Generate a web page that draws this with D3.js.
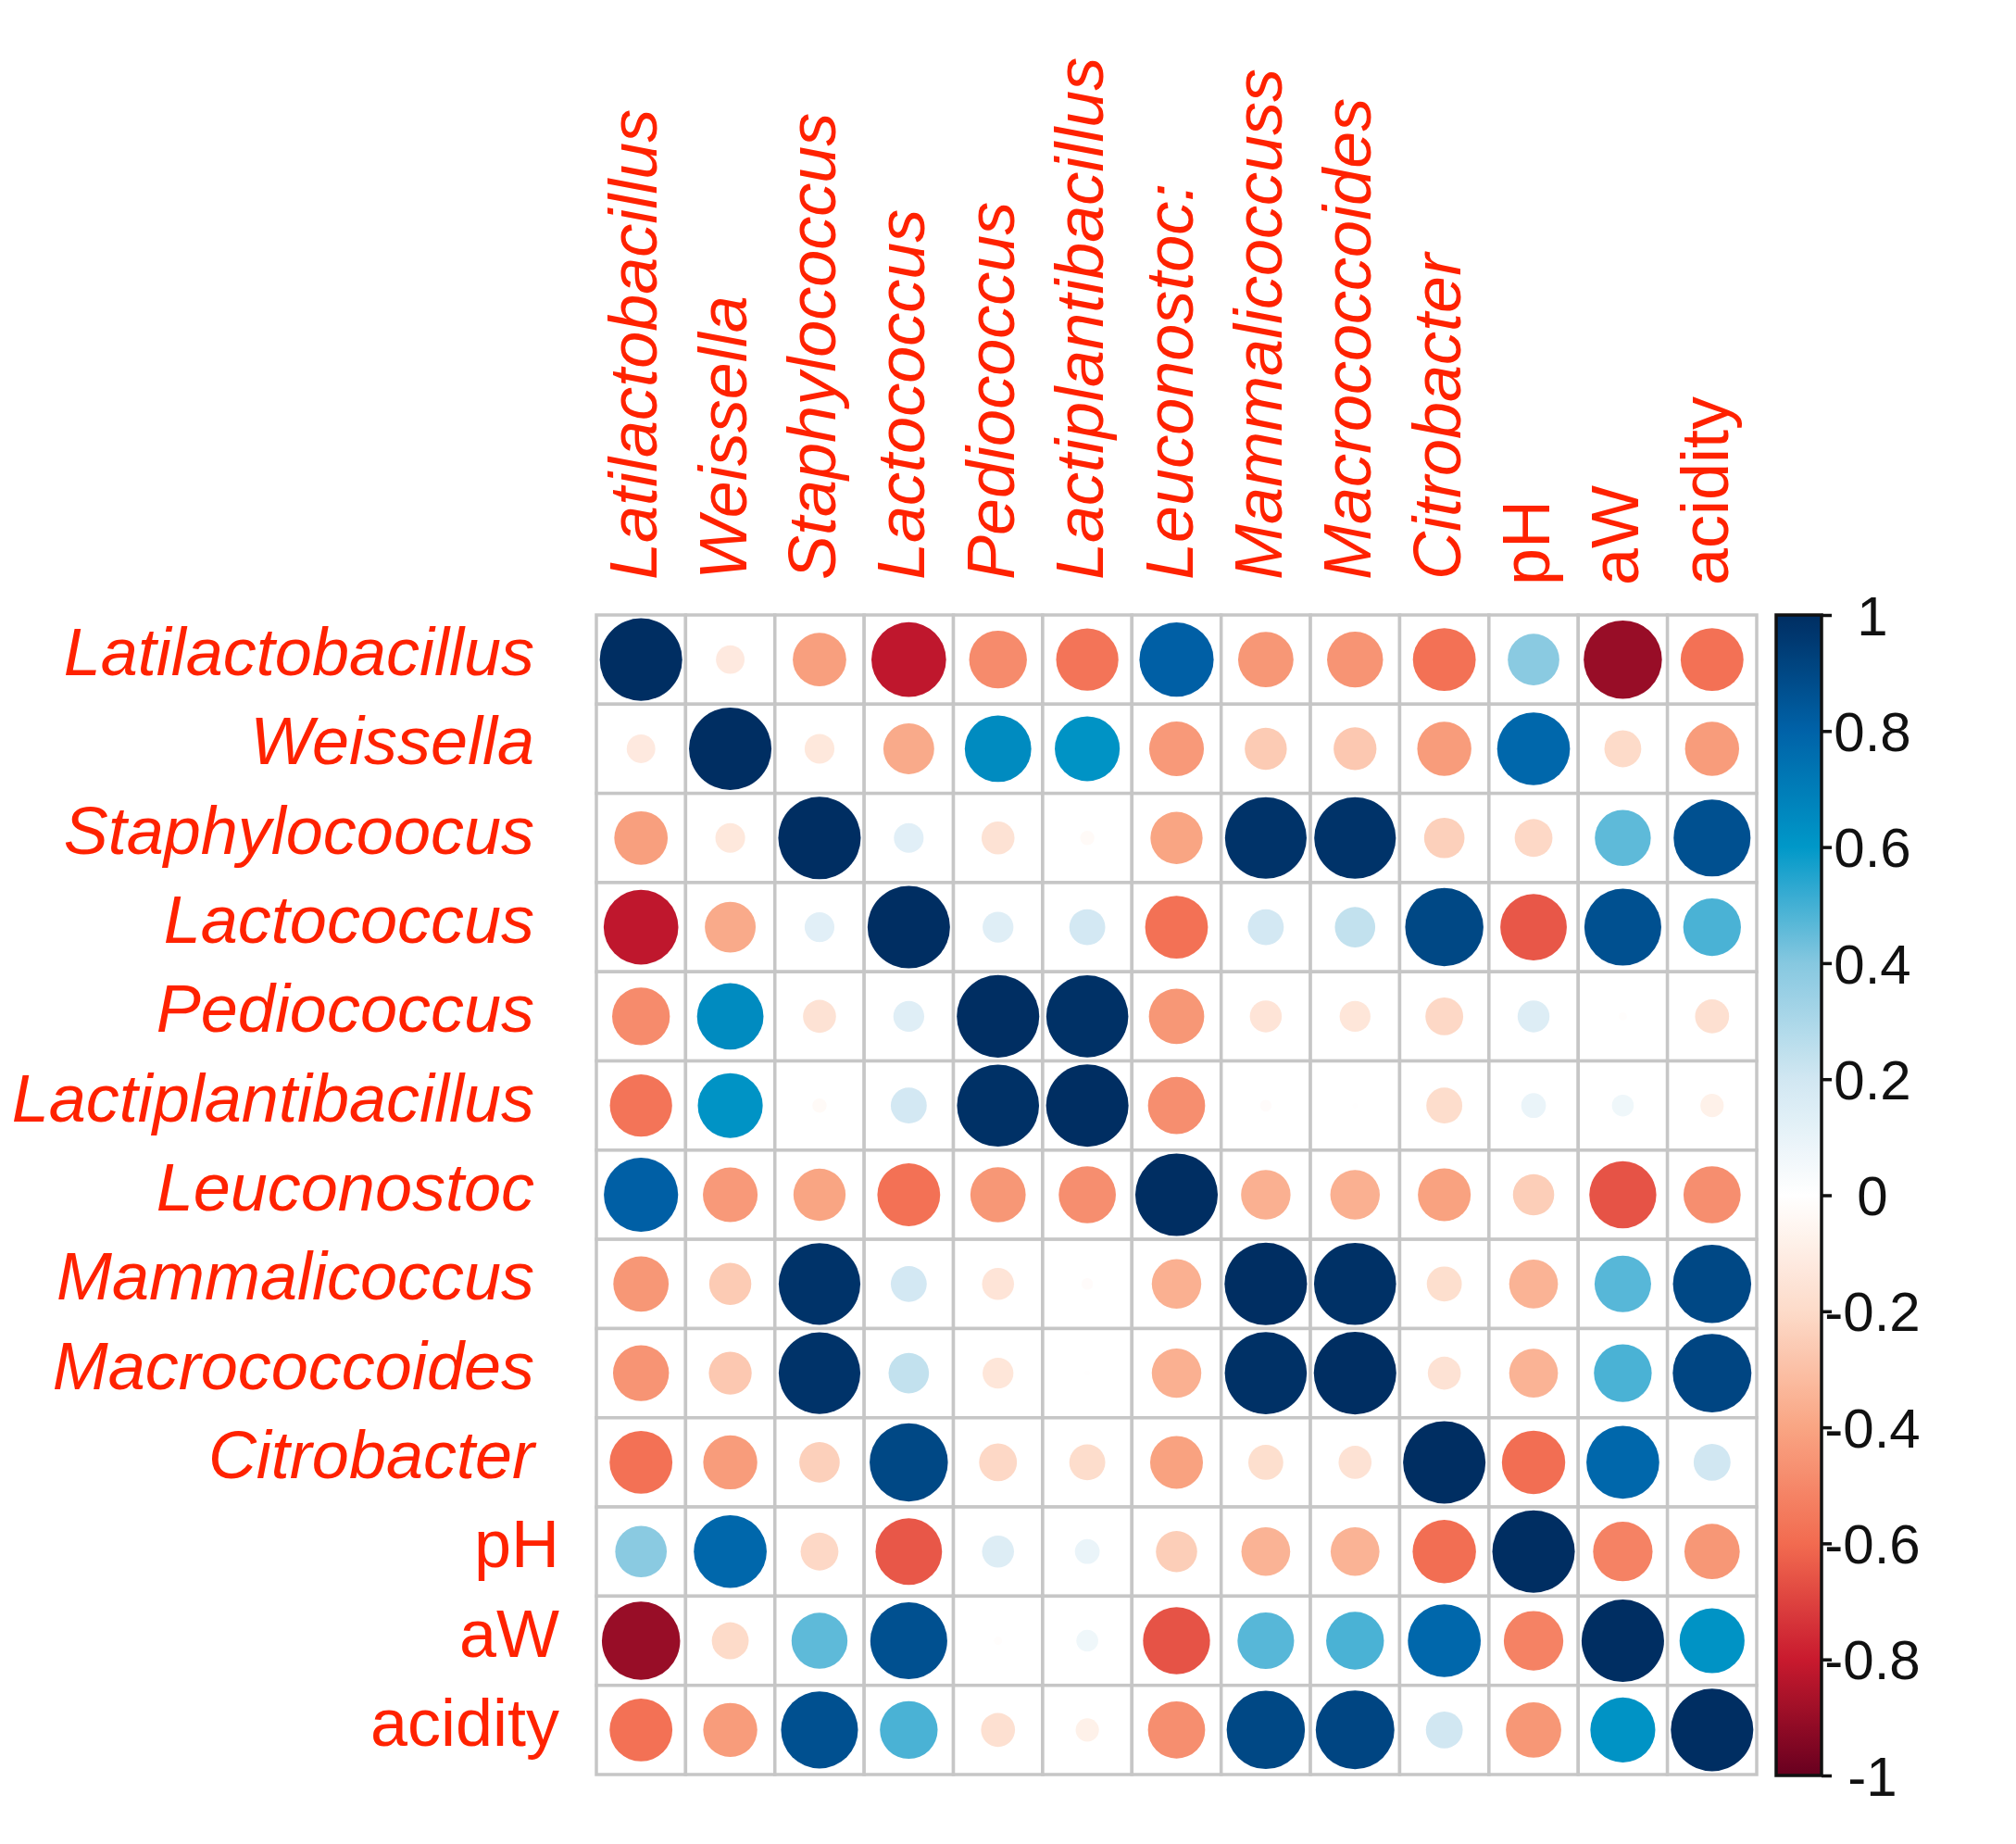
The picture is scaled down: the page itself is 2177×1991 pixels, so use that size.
<!DOCTYPE html>
<html>
<head>
<meta charset="utf-8">
<script src="https://cdn.jsdelivr.net/npm/d3@7"></script>
<style>
  html, body { margin: 0; padding: 0; background: #ffffff; }
  svg { display: block; }
</style>
</head>
<body>
<div id="chart"></div>
<script>
// ---------- data ----------
const colLabels = ["Latilactobacillus", "Weissella", "Staphylococcus", "Lactococcus", "Pediococcus",
  "Lactiplantibacillus", "Leuconostoc:", "Mammalicoccuss", "Macrococcoides", "Citrobacter", "pH", "aW", "acidity"];
const rowLabels = ["Latilactobacillus", "Weissella", "Staphylocoocus", "Lactococcus", "Pediococcus",
  "Lactiplantibacillus", "Leuconostoc", "Mammalicoccus", "Macrococcoides", "Citrobacter", "pH", "aW", "acidity"];
const uprightLabels = ["pH", "aW", "acidity"];

const corr = [
  [ 1.00, -0.12, -0.42, -0.82, -0.49, -0.57,  0.81, -0.45, -0.46, -0.58,  0.39, -0.90, -0.58],
  [-0.12,  1.00, -0.13, -0.38,  0.65,  0.62, -0.44, -0.26, -0.27, -0.43,  0.78, -0.20, -0.43],
  [-0.42, -0.13,  1.00,  0.13, -0.16, -0.03, -0.40,  0.98,  0.98, -0.24, -0.21,  0.46,  0.87],
  [-0.82, -0.38,  0.13,  1.00,  0.14,  0.19, -0.58,  0.19,  0.24,  0.90, -0.65,  0.87,  0.49],
  [-0.49,  0.65, -0.16,  0.14,  1.00,  0.99, -0.45, -0.15, -0.14, -0.21,  0.15, -0.01, -0.17],
  [-0.57,  0.62, -0.03,  0.19,  0.99,  1.00, -0.48, -0.02, -0.004, -0.19, 0.09,  0.07, -0.08],
  [ 0.81, -0.44, -0.40, -0.58, -0.45, -0.48,  1.00, -0.36, -0.36, -0.41, -0.25, -0.66, -0.48],
  [-0.45, -0.26,  0.98,  0.19, -0.15, -0.02, -0.36,  1.00,  0.99, -0.18, -0.35,  0.47,  0.90],
  [-0.46, -0.27,  0.98,  0.24, -0.14, -0.004, -0.36, 0.99,  1.00, -0.16, -0.35,  0.49,  0.91],
  [-0.58, -0.43, -0.24,  0.90, -0.21, -0.19, -0.41, -0.18, -0.16,  1.00, -0.59,  0.78,  0.20],
  [ 0.39,  0.78, -0.21, -0.65,  0.15,  0.09, -0.25, -0.35, -0.35, -0.59,  1.00, -0.52, -0.45],
  [-0.90, -0.20,  0.46,  0.87, -0.01,  0.07, -0.66,  0.47,  0.49,  0.78, -0.52,  1.00,  0.62],
  [-0.58, -0.43,  0.87,  0.49, -0.17, -0.08, -0.48,  0.90,  0.91,  0.20, -0.45,  0.62,  1.00]
];

const colorStops = [-1, -0.8, -0.6, -0.4, -0.2, 0, 0.2, 0.4, 0.6, 0.8, 1];
const colorValues = ["#67001F", "#C91A2E", "#F26B50", "#F9A583", "#FDDBC9", "#FFFFFF",
  "#D1E7F2", "#86C8E0", "#0098C8", "#0062A8", "#002E62"];
const legendTicks = [1, 0.8, 0.6, 0.4, 0.2, 0, -0.2, -0.4, -0.6, -0.8, -1];

// ---------- layout ----------
const W = 2177, H = 1991;
const grid = { left: 644, top: 664, right: 1897, bottom: 1916 };
const bar = { left: 1918, right: 1967, top: 664, bottom: 1917 };
const labelColor = "#ff2200";
const fontFam = "'Liberation Sans', Arial, Helvetica, sans-serif";

const svg = d3.select("#chart").append("svg")
  .attr("width", W).attr("height", H)
  .style("background", "#fff");

const x = d3.scaleBand().domain(d3.range(colLabels.length)).range([grid.left, grid.right]).paddingInner(0);
const y = d3.scaleBand().domain(d3.range(rowLabels.length)).range([grid.top, grid.bottom]).paddingInner(0);
const color = d3.scaleLinear().domain(colorStops).range(colorValues).interpolate(d3.interpolateRgb).clamp(true);
const rMax = x.bandwidth() * 0.462;
const rScale = d3.scaleSqrt().domain([0, 1]).range([0, rMax]);

// cells
const cells = [];
corr.forEach((row, i) => row.forEach((v, j) => cells.push({ i, j, v })));

const g = svg.append("g");
g.selectAll("rect.cell").data(cells).join("rect")
  .attr("class", "cell")
  .attr("x", d => x(d.j)).attr("y", d => y(d.i))
  .attr("width", x.bandwidth()).attr("height", y.bandwidth())
  .attr("fill", "#fff")
  .attr("stroke", "#c6c6c6").attr("stroke-width", 3.5);

g.selectAll("circle.val").data(cells).join("circle")
  .attr("class", "val")
  .attr("cx", d => x(d.j) + x.bandwidth() / 2)
  .attr("cy", d => y(d.i) + y.bandwidth() / 2)
  .attr("r", d => rScale(Math.abs(d.v)))
  .attr("fill", d => color(d.v));

// row labels
svg.append("g").selectAll("text").data(rowLabels).join("text")
  .attr("x", d => uprightLabels.includes(d) ? 604 : 577)
  .attr("y", (d, i) => y(i) + y.bandwidth() / 2 + 17)
  .attr("text-anchor", "end")
  .attr("font-family", fontFam)
  .attr("font-size", 72)
  .attr("font-style", d => uprightLabels.includes(d) ? "normal" : "italic")
  .attr("fill", labelColor)
  .text(d => d);

// column labels
svg.append("g").selectAll("text").data(colLabels).join("text")
  .attr("transform", (d, i) => `translate(${x(i) + x.bandwidth() / 2 + 17},${uprightLabels.includes(d) ? 632 : 626}) rotate(-90)`)
  .attr("text-anchor", "start")
  .attr("font-family", fontFam)
  .attr("font-size", 72)
  .attr("font-style", d => uprightLabels.includes(d) ? "normal" : "italic")
  .attr("fill", labelColor)
  .text(d => d);

// colour bar
const barY = d3.scaleLinear().domain([-1, 1]).range([bar.bottom, bar.top]);
const defs = svg.append("defs");
const grad = defs.append("linearGradient").attr("id", "cbar")
  .attr("x1", 0).attr("y1", 1).attr("x2", 0).attr("y2", 0);
d3.range(0, 1.0001, 0.02).forEach(t => {
  const v = -1 + 2 * t;
  grad.append("stop").attr("offset", t).attr("stop-color", color(v));
});
svg.append("rect")
  .attr("x", bar.left).attr("y", bar.top)
  .attr("width", bar.right - bar.left).attr("height", bar.bottom - bar.top)
  .attr("fill", "url(#cbar)")
  .attr("stroke", "#111").attr("stroke-width", 3.5);

const axis = d3.axisRight(barY).tickValues(legendTicks).tickSize(11).tickFormat("");
const axG = svg.append("g").attr("transform", `translate(${bar.right},0)`).call(axis);
axG.select(".domain").remove();
axG.selectAll(".tick line").attr("stroke", "#111").attr("stroke-width", 3.5);

svg.append("g").selectAll("text").data(legendTicks).join("text")
  .attr("x", 2022)
  .attr("y", d => barY(d))
  .attr("dy", "0.36em")
  .attr("text-anchor", "middle")
  .attr("font-family", fontFam)
  .attr("font-size", 60)
  .attr("fill", "#111")
  .text(d => String(d));
</script>
</body>
</html>
